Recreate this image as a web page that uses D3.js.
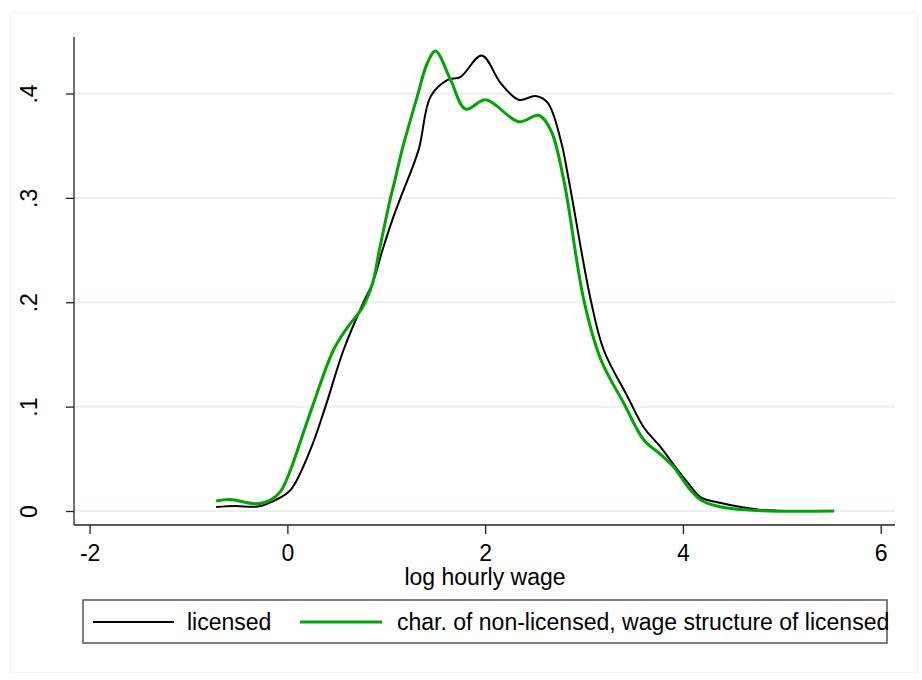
<!DOCTYPE html>
<html>
<head>
<meta charset="utf-8">
<script src="https://cdn.jsdelivr.net/npm/d3@7"></script>
<style>
  html, body { margin: 0; padding: 0; background: #fff; }
  svg { display: block; font-family: "Liberation Sans", Arial, sans-serif; }
</style>
</head>
<body>
<svg id="chart" width="922" height="680"></svg>
<script>
// ---- Data ----
const xTicks = [-2, 0, 2, 4, 6];
const xTickLabels = ["-2", "0", "2", "4", "6"];
const yTicks = [0, 0.1, 0.2, 0.3, 0.4];
const yTickLabels = ["0", ".1", ".2", ".3", ".4"];
const xTitle = "log hourly wage";
const seriesNames = ["licensed", "char. of non-licensed, wage structure of licensed"];

// licensed (black)
const licensedWage = [-0.72, -0.53, -0.30, -0.12, 0.03, 0.23, 0.385, 0.567, 0.77, 0.861, 0.962, 1.073, 1.144, 1.327, 1.448, 1.62, 1.752, 1.965, 2.157, 2.339, 2.511, 2.633, 2.765, 2.846, 3.068, 3.2, 3.443, 3.605, 3.777, 3.909, 4.051, 4.182, 4.385, 4.587, 4.79, 4.96, 5.52];
const licensedDensity = [0.0038, 0.0048, 0.0043, 0.0105, 0.020, 0.058, 0.100, 0.154, 0.200, 0.218, 0.250, 0.282, 0.300, 0.346, 0.397, 0.413, 0.416, 0.4365, 0.410, 0.394, 0.3975, 0.391, 0.355, 0.317, 0.202, 0.154, 0.109, 0.080, 0.061, 0.044, 0.027, 0.013, 0.0077, 0.0038, 0.001, 0.0003, 0.0];

// counterfactual (green)
const counterWage = [-0.72, -0.577, -0.324, -0.172, -0.071, 0.03, 0.101, 0.253, 0.465, 0.608, 0.759, 0.861, 0.93, 1.043, 1.088, 1.16, 1.313, 1.415, 1.499, 1.651, 1.803, 2.005, 2.339, 2.542, 2.663, 2.795, 2.998, 3.17, 3.403, 3.605, 3.777, 3.909, 4.051, 4.182, 4.385, 4.79, 5.53];
const counterDensity = [0.0096, 0.011, 0.007, 0.0105, 0.0185, 0.039, 0.058, 0.100, 0.154, 0.176, 0.195, 0.218, 0.250, 0.300, 0.317, 0.346, 0.397, 0.429, 0.4406, 0.413, 0.385, 0.394, 0.373, 0.379, 0.365, 0.317, 0.202, 0.145, 0.103, 0.068, 0.054, 0.042, 0.023, 0.0105, 0.0038, 0.0003, 0.0];

const colors = ["#000000", "#00a600"];

// ---- Drawing ----
const svg = d3.select("#chart");
const FONT = 23;

// faint outer frame
svg.append("rect").attr("x", 10).attr("y", 12.5).attr("width", 908).attr("height", 660)
  .attr("fill", "#fff").attr("stroke", "#eef3f4").attr("stroke-width", 1);

const x = d3.scaleLinear().domain([-2, 6]).range([89.6, 880.7]);
const y = d3.scaleLinear().domain([0, 0.4]).range([511, 93.5]);
const plotLeft = 74, plotRight = 895, axisY = 525, plotTop = 37;

// gridlines
svg.append("g").selectAll("line").data(yTicks).join("line")
  .attr("x1", plotLeft).attr("x2", plotRight)
  .attr("y1", d => y(d)).attr("y2", d => y(d))
  .attr("stroke", "#eaf1f2").attr("stroke-width", 2);

// curves
const line = d3.line().curve(d3.curveCatmullRom.alpha(0.5));
const series = [
  {wage: licensedWage, dens: licensedDensity, color: colors[0], w: 2},
  {wage: counterWage, dens: counterDensity, color: colors[1], w: 3}
];
series.forEach(s => {
  const pts = s.wage.map((v, i) => [x(v), y(s.dens[i])]);
  svg.append("path").attr("d", line(pts)).attr("fill", "none")
    .attr("stroke", s.color).attr("stroke-width", s.w).attr("stroke-linejoin", "round");
});

// y axis
const yAxis = d3.axisLeft(y).tickValues(yTicks).tickSize(8).tickFormat((d, i) => yTickLabels[i]);
const gy = svg.append("g").attr("transform", `translate(${plotLeft},0)`).call(yAxis);
gy.select(".domain").remove();
gy.selectAll(".tick line").attr("stroke", "#222").attr("stroke-width", 1.3);
gy.selectAll(".tick text").attr("font-size", FONT).attr("font-family", "Liberation Sans, Arial, sans-serif")
  .attr("fill", "#000")
  .attr("text-anchor", "middle").attr("dy", null).attr("x", null)
  .attr("transform", "translate(-37,0) rotate(-90)");
svg.append("line").attr("x1", plotLeft).attr("x2", plotLeft).attr("y1", plotTop).attr("y2", axisY)
  .attr("stroke", "#222").attr("stroke-width", 1.3);

// x axis
const xAxis = d3.axisBottom(x).tickValues(xTicks).tickSize(9).tickFormat((d, i) => xTickLabels[i]);
const gx = svg.append("g").attr("transform", `translate(0,${axisY})`).call(xAxis);
gx.select(".domain").remove();
gx.selectAll(".tick line").attr("stroke", "#222").attr("stroke-width", 1.3);
gx.selectAll(".tick text").attr("font-size", FONT).attr("font-family", "Liberation Sans, Arial, sans-serif")
  .attr("fill", "#000").attr("dy", null).attr("y", 36);
svg.append("line").attr("x1", plotLeft).attr("x2", plotRight).attr("y1", axisY).attr("y2", axisY)
  .attr("stroke", "#222").attr("stroke-width", 1.3);

svg.append("text").attr("x", 485).attr("y", 585).attr("text-anchor", "middle")
  .attr("font-size", FONT).text(xTitle);

// legend
const lg = svg.append("g");
lg.append("rect").attr("x", 83).attr("y", 600).attr("width", 804).attr("height", 43)
  .attr("fill", "#fff").attr("stroke", "#555").attr("stroke-width", 1.5);
const legendItems = [
  {name: seriesNames[0], color: colors[0], w: 2, x1: 93, x2: 174, tx: 187},
  {name: seriesNames[1], color: colors[1], w: 3, x1: 300, x2: 382, tx: 397}
];
legendItems.forEach(it => {
  lg.append("line").attr("x1", it.x1).attr("x2", it.x2).attr("y1", 622).attr("y2", 622)
    .attr("stroke", it.color).attr("stroke-width", it.w);
  lg.append("text").attr("x", it.tx).attr("y", 630).attr("font-size", FONT).text(it.name);
});
</script>
</body>
</html>
